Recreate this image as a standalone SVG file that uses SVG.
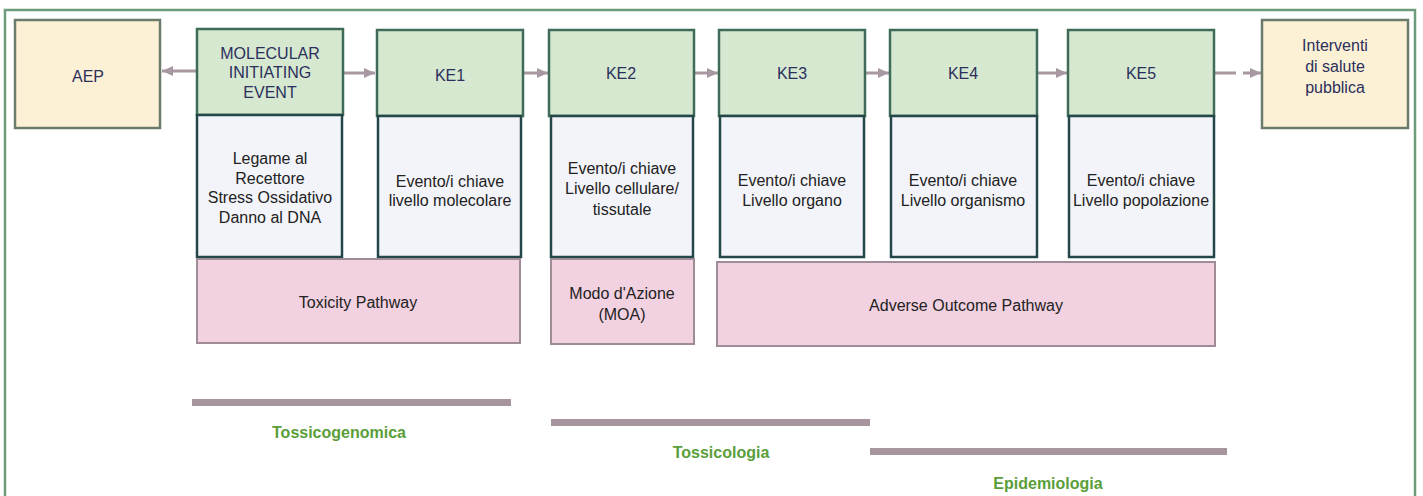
<svg xmlns="http://www.w3.org/2000/svg" width="1423" height="496" viewBox="0 0 1423 496">
<defs>
<style>
text{font-family:"Liberation Sans",Arial,sans-serif;font-size:16px;text-anchor:middle;dominant-baseline:central}
.frame{fill:#ffffff;stroke:#6c9c7c;stroke-width:2.5}
.yel{fill:#fcf1d4;stroke:#6b7c6c;stroke-width:2.5}
.grn{fill:#d6e8d0;stroke:#3f6b58;stroke-width:2.5}
.wht{fill:#f3f4f9;stroke:#24484a;stroke-width:2.5}
.pnk{fill:#f2d1e0;stroke:#a08c97;stroke-width:2}
.hd{fill:#2b2f5c}
.bd{fill:#222222}
.lbl{fill:#5a9e3a;font-weight:bold}
.bar{fill:#a6959f}
.conn{stroke:#a898a2;stroke-width:3;fill:none}
</style>
<marker id="ah" markerUnits="userSpaceOnUse" markerWidth="12" markerHeight="12" viewBox="0 0 12 12" refX="11" refY="6" orient="auto">
<path d="M0,1 L11,6 L0,11 Z" fill="#a898a2"/>
</marker>
</defs>
<rect class="frame" x="5" y="10" width="1410" height="500"/>

<g id="connectors">
<line class="conn" x1="197" y1="71" x2="162" y2="71" marker-end="url(#ah)"/>
<line class="conn" x1="343" y1="73" x2="375" y2="73" marker-end="url(#ah)"/>
<line class="conn" x1="522" y1="73" x2="548" y2="73" marker-end="url(#ah)"/>
<line class="conn" x1="694" y1="73" x2="718" y2="73" marker-end="url(#ah)"/>
<line class="conn" x1="865" y1="73" x2="889" y2="73" marker-end="url(#ah)"/>
<line class="conn" x1="1037" y1="73" x2="1067" y2="73" marker-end="url(#ah)"/>
<line class="conn" x1="1214" y1="73" x2="1261" y2="73" stroke-dasharray="22,7" marker-end="url(#ah)"/>
</g>

<g id="aep">
<rect class="yel" x="15" y="20" width="145" height="108"/>
<text class="hd" x="88" y="76">AEP</text>
</g>

<g id="mie">
<rect class="grn" x="197" y="29" width="146" height="86"/>
<text class="hd" x="270" y="53">MOLECULAR</text>
<text class="hd" x="270" y="72">INITIATING</text>
<text class="hd" x="270" y="92">EVENT</text>
<rect class="wht" x="197" y="115" width="145" height="142"/>
<text class="bd" x="270" y="158">Legame al</text>
<text class="bd" x="270" y="178">Recettore</text>
<text class="bd" x="270" y="197">Stress Ossidativo</text>
<text class="bd" x="270" y="217">Danno al DNA</text>
</g>

<g id="ke1">
<rect class="grn" x="377" y="30" width="146" height="86"/>
<text class="hd" x="450" y="75">KE1</text>
<rect class="wht" x="378" y="116" width="143" height="141"/>
<text class="bd" x="450" y="181">Evento/i chiave</text>
<text class="bd" x="450" y="200">livello molecolare</text>
</g>

<g id="ke2">
<rect class="grn" x="549" y="30" width="145" height="86"/>
<text class="hd" x="621" y="73">KE2</text>
<rect class="wht" x="551" y="116" width="142" height="141"/>
<text class="bd" x="622" y="168">Evento/i chiave</text>
<text class="bd" x="622" y="188">Livello cellulare/</text>
<text class="bd" x="622" y="209">tissutale</text>
</g>

<g id="ke3">
<rect class="grn" x="719" y="30" width="146" height="86"/>
<text class="hd" x="792" y="73">KE3</text>
<rect class="wht" x="720" y="116" width="144" height="141"/>
<text class="bd" x="792" y="180">Evento/i chiave</text>
<text class="bd" x="792" y="200">Livello organo</text>
</g>

<g id="ke4">
<rect class="grn" x="890" y="30" width="147" height="86"/>
<text class="hd" x="963" y="73">KE4</text>
<rect class="wht" x="891" y="116" width="146" height="141"/>
<text class="bd" x="963" y="180">Evento/i chiave</text>
<text class="bd" x="963" y="200">Livello organismo</text>
</g>

<g id="ke5">
<rect class="grn" x="1068" y="30" width="146" height="86"/>
<text class="hd" x="1141" y="73">KE5</text>
<rect class="wht" x="1069" y="116" width="145" height="141"/>
<text class="bd" x="1141" y="180">Evento/i chiave</text>
<text class="bd" x="1141" y="200">Livello popolazione</text>
</g>

<g id="interventi">
<rect class="yel" x="1262" y="20" width="146" height="108"/>
<text class="hd" x="1335" y="45">Interventi</text>
<text class="hd" x="1335" y="66">di salute</text>
<text class="hd" x="1335" y="87">pubblica</text>
</g>

<g id="toxicity-pathway">
<rect class="pnk" x="197" y="259" width="323" height="84"/>
<text class="bd" x="358" y="302">Toxicity Pathway</text>
</g>

<g id="moa">
<rect class="pnk" x="551" y="259" width="143" height="85"/>
<text class="bd" x="622" y="293">Modo d'Azione</text>
<text class="bd" x="622" y="314">(MOA)</text>
</g>

<g id="aop">
<rect class="pnk" x="717" y="262" width="498" height="84"/>
<text class="bd" x="966" y="305">Adverse Outcome Pathway</text>
</g>

<g id="tossicogenomica">
<rect class="bar" x="192" y="399" width="319" height="7"/>
<text class="lbl" x="339" y="432">Tossicogenomica</text>
</g>

<g id="tossicologia">
<rect class="bar" x="551" y="419" width="319" height="7"/>
<text class="lbl" x="721" y="452">Tossicologia</text>
</g>

<g id="epidemiologia">
<rect class="bar" x="870" y="448" width="357" height="7"/>
<text class="lbl" x="1048" y="483">Epidemiologia</text>
</g>
</svg>
